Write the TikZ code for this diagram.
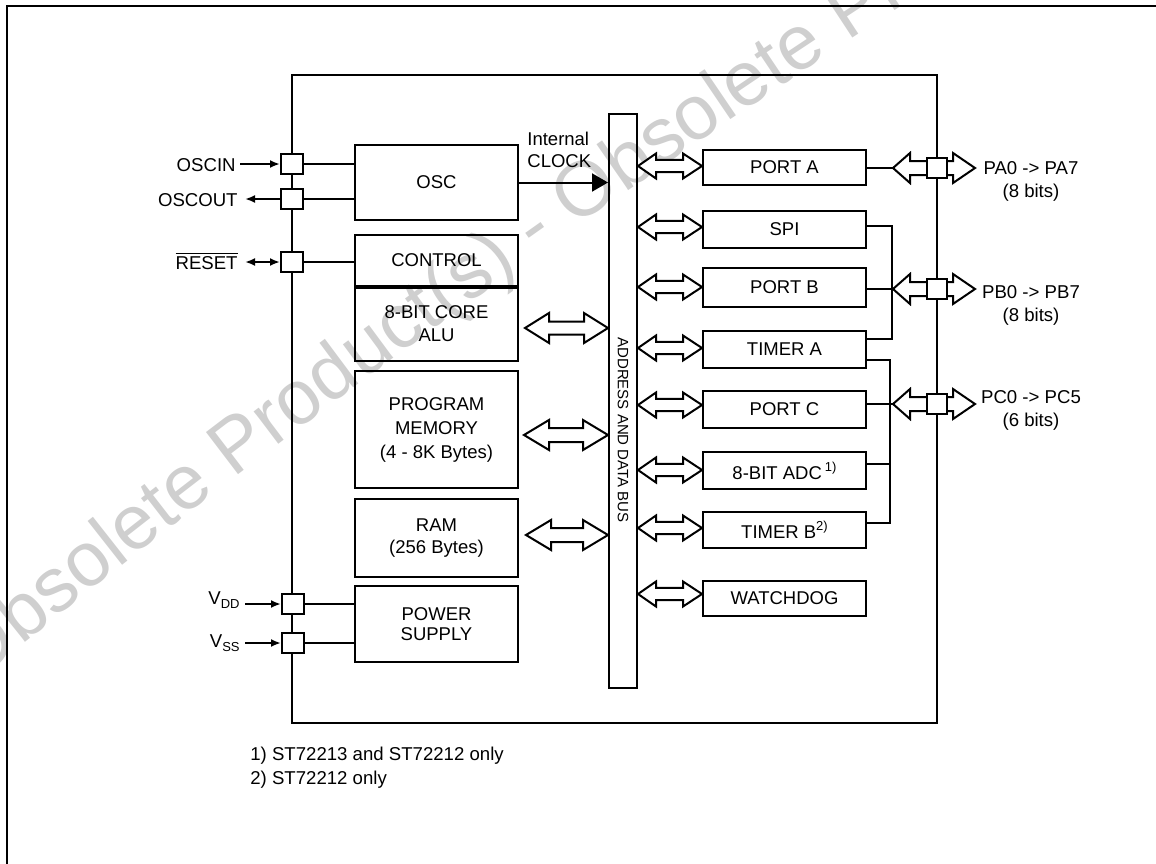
\documentclass[tikz,border=0pt]{standalone}
\usepackage{fontspec}
\setmainfont{Liberation Sans}
\usetikzlibrary{calc,arrows.meta,decorations.text}

% hollow double arrow: #1 left x-source, #2 right x-source, #3 y (px), #4 head half, #5 shaft half, #6 left head len, #7 right head len
\newcommand\hdbl[7]{%
  \path[hollow] let \p1=(#1), \p2=(#2), \p3=(0,#3) in
    (\x1,\y3) -- (\x1+#6,\y3+#4) -- (\x1+#6,\y3+#5) -- (\x2-#7,\y3+#5) -- (\x2-#7,\y3+#4) -- (\x2,\y3)
    -- (\x2-#7,\y3-#4) -- (\x2-#7,\y3-#5) -- (\x1+#6,\y3-#5) -- (\x1+#6,\y3-#4) -- cycle;}

\tikzset{
  blk/.style={draw, line width=1pt, inner sep=0pt, minimum width=81.5pt, align=center,
              font=\fontsize{9.25}{11.5}\selectfont},
  pinsq/.style={draw, fill=white, line width=1pt, inner sep=0pt, minimum width=11pt, minimum height=10pt},
  hollow/.style={draw, fill=white, line width=1pt, line join=miter},
  wire/.style={line width=1pt},
  sig/.style={line width=1pt, -{Latex[length=5pt,width=4pt]}},
  lbl/.style={font=\fontsize{9.3}{11.5}\selectfont, inner sep=0pt},
}

\begin{document}
\begin{tikzpicture}[x=0.5pt,y=-0.5pt]
\useasboundingbox (0,0) rectangle (1156,863);

% watermark
\begin{scope}
  \clip (0,0) rectangle (1156,863);
  \coordinate (wmc) at (6708,8939);
  \path[decorate, decoration={text along path, text align=left,
     text={|\fontsize{38.5}{38.5}\selectfont\color{black!19}|Obsolete Product(s) - Obsolete Product(s)}}]
     (wmc) ++(230.8:10654) arc[start angle=230.8, end angle=240, radius=10654];
\end{scope}

% outer frame
\draw[line width=1pt] (7,900) -- (7,6) -- (1200,6);

% chip outline
\node[draw, line width=1pt, inner sep=0pt, minimum width=322.5pt, minimum height=324pt] (chip) at (614.5,399) {};

% left blocks
\node[blk, minimum height=37.5pt] (osc) at (436.5,182.5) {OSC};
\node[blk, minimum height=25.5pt] (ctrl) at (436.5,260.5) {CONTROL};
\node[blk, minimum height=37.5pt] (alu) at (436.5,323.5) {8-BIT CORE\\ALU};
\draw[line width=2pt] (ctrl.south west) -- (ctrl.south east);
\node[blk, minimum height=58.5pt, font=\fontsize{9.25}{12}\selectfont] (pm) at (436.5,429.5) {PROGRAM\\MEMORY\\(4 - 8K Bytes)};
\node[blk, minimum height=39pt, font=\fontsize{9.25}{11}\selectfont] (ram) at (436.5,538) {RAM\\(256 Bytes)};
\node[blk, minimum height=38pt, font=\fontsize{9.25}{10}\selectfont] (ps) at (436.5,624) {POWER\\SUPPLY};

% bus
\node[draw, line width=1pt, inner sep=0pt, minimum width=14pt, minimum height=287pt] (bus) at (623,401) {};
\node[rotate=-90, inner sep=0pt, font=\fontsize{7.5}{9}\selectfont] (buslbl) at (623,430) {ADDRESS AND DATA BUS};

% right blocks
\node[blk, minimum height=17.5pt] (porta) at (784.5,167) {PORT A};
\node[blk, minimum height=18.5pt] (spi) at (784.5,229.5) {SPI};
\node[blk, minimum height=19.5pt] (portb) at (784.5,287.5) {PORT B};
\node[blk, minimum height=18.5pt] (timera) at (784.5,349.5) {TIMER A};
\node[blk, minimum height=18.5pt] (portc) at (784.5,409.5) {PORT C};
\node[blk, minimum height=18.5pt] (adc) at (784.5,470.5) {8-BIT ADC\,\raisebox{4pt}{\fontsize{6.5}{7}\selectfont 1)}};
\node[blk, minimum height=18pt] (timerb) at (784.5,530) {TIMER B\raisebox{4pt}{\fontsize{6.5}{7}\selectfont 2)}};
\node[blk, minimum height=17.5pt] (wdog) at (784.5,598.5) {WATCHDOG};

% internal clock
\draw[line width=1pt, -{Triangle[length=8pt,width=9pt]}] (osc.east) -- (osc.east -| bus.west);
\node[lbl, align=left, anchor=north west, font=\fontsize{9.25}{11}\selectfont] (clk) at (527,131.5) {Internal\\CLOCK};

% hollow arrows: left blocks <-> bus
\hdbl{[xshift=3pt]alu.east}{bus.west}{328}{7.5pt}{3.25pt}{12pt}{12pt}
\hdbl{[xshift=2.5pt]pm.east}{bus.west}{435}{7.5pt}{3.5pt}{12.5pt}{12.5pt}
\hdbl{[xshift=3.5pt]ram.east}{bus.west}{535}{7.5pt}{3.5pt}{12.5pt}{12.5pt}

% hollow arrows: bus <-> right blocks
\hdbl{bus.east}{porta.west}{166}{6.25pt}{3.1pt}{9pt}{9.5pt}
\hdbl{bus.east}{spi.west}{227}{6.25pt}{3.1pt}{9pt}{9.5pt}
\hdbl{bus.east}{portb.west}{287}{6.25pt}{3.1pt}{9pt}{9.5pt}
\hdbl{bus.east}{timera.west}{348}{6.25pt}{3.1pt}{9pt}{9.5pt}
\hdbl{bus.east}{portc.west}{405}{6.25pt}{3.1pt}{9pt}{9.5pt}
\hdbl{bus.east}{adc.west}{470}{6.25pt}{3.1pt}{9pt}{9.5pt}
\hdbl{bus.east}{timerb.west}{528}{6.25pt}{3.1pt}{9pt}{9.5pt}
\hdbl{bus.east}{wdog.west}{594}{6.25pt}{3.1pt}{9pt}{9.5pt}

% right pins with hollow double arrows
\coordinate (paL) at (893,168); \coordinate (paR) at (975,168);
\coordinate (pbL) at (893,289); \coordinate (pbR) at (975,289);
\coordinate (pcL) at (893,404); \coordinate (pcR) at (975,404);
\hdbl{paL}{paR}{168}{7.5pt}{3.5pt}{8.5pt}{11pt}
\hdbl{pbL}{pbR}{289}{7.5pt}{3.5pt}{8.5pt}{11pt}
\hdbl{pcL}{pcR}{404}{7.5pt}{3.5pt}{8.5pt}{11pt}
\node[pinsq, minimum width=10pt] (pa) at (937,168) {};
\node[pinsq, minimum width=10pt] (pb) at (937,289) {};
\node[pinsq, minimum width=10pt] (pc) at (937,404) {};

% right wiring
\draw[wire] (porta.east |- paL) -- (paL);
\coordinate (j1t) at (892,226); \coordinate (j1b) at (892,339);
\draw[wire] (spi.east |- j1t) -- (j1t) -- (j1b) -- (timera.east |- j1b);
\draw[wire] (portb.east |- pbL) -- (pbL);
\coordinate (j2t) at (890,360); \coordinate (j2b) at (890,523);
\draw[wire] (timera.east |- j2t) -- (j2t) -- (j2b) -- (timerb.east |- j2b);
\draw[wire] (portc.east |- pcL) -- (pcL);
\coordinate (adcj) at (890,464);
\draw[wire] (adc.east |- adcj) -- (adcj);

% right labels
\node[lbl, align=center, anchor=north] (palbl) at (1031,161.5) {PA0 -> PA7\\(8 bits)};
\node[lbl, align=center, anchor=north] (pblbl) at (1031,285.5) {PB0 -> PB7\\(8 bits)};
\node[lbl, align=center, anchor=north] (pclbl) at (1031,390.5) {PC0 -> PC5\\(6 bits)};

% left pins
\node[pinsq] (oscin) at (292,164) {};
\node[pinsq] (oscout) at (292,199) {};
\node[pinsq] (reset) at (292,262) {};
\node[pinsq] (vdd) at (293,604) {};
\node[pinsq] (vss) at (293,643) {};

\draw[wire] (oscin.east) -- (oscin.east -| osc.west);
\draw[wire] (oscout.east) -- (oscout.east -| osc.west);
\draw[wire] (reset.east) -- (reset.east -| ctrl.west);
\draw[wire] (vdd.east) -- (vdd.east -| ps.west);
\draw[wire] (vss.east) -- (vss.east -| ps.west);

\coordinate (oscinL) at (240,164);
\coordinate (oscoutL) at (245,199);
\coordinate (resetL) at (245,262);
\coordinate (vddL) at (245,604);
\coordinate (vssL) at (245,643);
\draw[sig] (oscinL) -- (oscin.west);
\draw[sig] (oscout.west) -- (oscoutL);
\draw[wire, {Latex[length=5pt,width=4pt]}-{Latex[length=5pt,width=4pt]}] (resetL) -- (reset.west);
\draw[sig] (vddL) -- (vdd.west);
\draw[sig] (vssL) -- (vss.west);

\node[lbl, anchor=base east] (oscinlbl) at (236,171) {OSCIN};
\node[lbl, anchor=base east] (oscoutlbl) at (238,206) {OSCOUT};
\node[lbl, anchor=base east] (resetlbl) at (238,269) {$\overline{\hbox{RESET}}$};
\node[lbl, anchor=base east] (vddlbl) at (240,604) {V\raisebox{-2pt}{\fontsize{6.5}{7}\selectfont DD}};
\node[lbl, anchor=base east] (vsslbl) at (240,647) {V\raisebox{-2pt}{\fontsize{6.5}{7}\selectfont SS}};

% footnotes
\node[lbl, anchor=base west] (fn1) at (250,760) {1) ST72213 and ST72212 only};
\node[lbl, anchor=base west] (fn2) at (250,784) {2) ST72212 only};
\end{tikzpicture}
\end{document}
